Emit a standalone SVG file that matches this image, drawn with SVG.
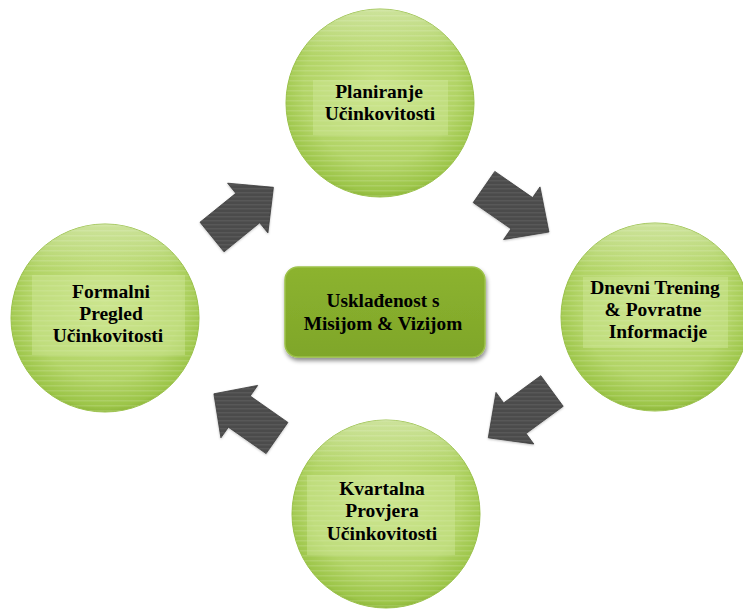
<svg xmlns="http://www.w3.org/2000/svg" width="743" height="610" viewBox="0 0 743 610">
  <defs>
    <radialGradient id="gCircle" cx="50%" cy="42%" r="58%">
      <stop offset="0" stop-color="#c6e182"/>
      <stop offset="0.7" stop-color="#b2d466"/>
      <stop offset="0.95" stop-color="#9cc548"/>
      <stop offset="1" stop-color="#8fb83c"/>
    </radialGradient>
    <linearGradient id="gHi" x1="0" y1="0" x2="0" y2="1">
      <stop offset="0" stop-color="#ffffff" stop-opacity="0.35"/>
      <stop offset="0.25" stop-color="#ffffff" stop-opacity="0"/>
      <stop offset="1" stop-color="#ffffff" stop-opacity="0"/>
    </linearGradient>
    <pattern id="stripes" width="8" height="5" patternUnits="userSpaceOnUse">
      <rect x="0" y="0" width="8" height="1.5" fill="#ffffff" fill-opacity="0.13"/>
    </pattern>
    <pattern id="darkStripes" width="8" height="4" patternUnits="userSpaceOnUse">
      <rect x="0" y="0" width="8" height="1.5" fill="#ffffff" fill-opacity="0.07"/>
    </pattern>
    <linearGradient id="gBox" x1="0" y1="0" x2="0" y2="1">
      <stop offset="0" stop-color="#8cb32f"/>
      <stop offset="1" stop-color="#7fa62a"/>
    </linearGradient>
    <filter id="shadow" x="-10%" y="-10%" width="125%" height="135%">
      <feDropShadow dx="1" dy="3" stdDeviation="2" flood-color="#000" flood-opacity="0.45"/>
    </filter>
    <filter id="soft" x="-10%" y="-10%" width="120%" height="120%">
      <feDropShadow dx="0" dy="1" stdDeviation="1" flood-color="#000" flood-opacity="0.25"/>
    </filter>
  </defs>
  <style>
    .circ { fill: url(#gCircle); stroke: #98c046; stroke-width: 1; }
    .circHi { fill: url(#gHi); }
    .circStr { fill: url(#stripes); }
    .tbox { fill: #d4eba0; fill-opacity: 0.4; }
    .lbl { font-family: "Liberation Serif", "Times New Roman", serif; font-weight: bold; font-size: 19.5px; fill: #000; text-anchor: middle; }
    .clbl { font-family: "Liberation Serif", "Times New Roman", serif; font-weight: bold; font-size: 19.3px; fill: #000; text-anchor: middle; }
    .arrow { fill: #4b4b4b; stroke: #3a3a3a; stroke-width: 0.8; }
    .arrowStr { fill: url(#darkStripes); }
  </style>
  <rect width="743" height="610" fill="#ffffff"/>

  <g id="connectors">
    <g id="arrow-top-left" filter="url(#soft)">
      <polygon class="arrow" points="200.0,222.2 235.8,193.3 227.6,183.2 273.4,187.3 267.9,232.9 259.7,222.8 224.0,251.8"/>
      <polygon class="arrowStr" points="200.0,222.2 235.8,193.3 227.6,183.2 273.4,187.3 267.9,232.9 259.7,222.8 224.0,251.8"/>
    </g>
    <g id="arrow-top-right" filter="url(#soft)">
      <polygon class="arrow" points="494.8,171.4 532.6,197.6 540.0,186.9 548.9,232.0 503.6,239.5 511.0,228.8 473.2,202.6"/>
      <polygon class="arrowStr" points="494.8,171.4 532.6,197.6 540.0,186.9 548.9,232.0 503.6,239.5 511.0,228.8 473.2,202.6"/>
    </g>
    <g id="arrow-bottom-right" filter="url(#soft)">
      <polygon class="arrow" points="563.2,406.3 526.1,433.5 533.8,444.0 488.3,437.8 496.0,392.4 503.7,402.9 540.8,375.7"/>
      <polygon class="arrowStr" points="563.2,406.3 526.1,433.5 533.8,444.0 488.3,437.8 496.0,392.4 503.7,402.9 540.8,375.7"/>
    </g>
    <g id="arrow-bottom-left" filter="url(#soft)">
      <polygon class="arrow" points="266.1,453.6 228.4,427.2 220.9,437.8 213.9,393.8 257.7,385.4 250.2,396.0 287.9,422.4"/>
      <polygon class="arrowStr" points="266.1,453.6 228.4,427.2 220.9,437.8 213.9,393.8 257.7,385.4 250.2,396.0 287.9,422.4"/>
    </g>
  </g>

  <g id="node-top">
    <circle class="circ" cx="380" cy="103" r="94"/>
    <circle class="circStr" cx="380" cy="103" r="94"/>
    <circle class="circHi" cx="380" cy="103" r="94"/>
    <rect class="tbox" x="313" y="80" width="135" height="55"/>
    <text class="lbl" x="379" y="98">Planiranje</text>
    <text class="lbl" x="380" y="120">Učinkovitosti</text>
  </g>

  <g id="node-right">
    <circle class="circ" cx="655" cy="317" r="94"/>
    <circle class="circStr" cx="655" cy="317" r="94"/>
    <circle class="circHi" cx="655" cy="317" r="94"/>
    <rect class="tbox" x="583" y="277" width="145" height="71"/>
    <text class="lbl" x="655" y="294">Dnevni Trening</text>
    <text class="lbl" x="653" y="316">&amp; Povratne</text>
    <text class="lbl" x="658" y="338">Informacije</text>
  </g>

  <g id="node-bottom">
    <circle class="circ" cx="386" cy="514" r="94"/>
    <circle class="circStr" cx="386" cy="514" r="94"/>
    <circle class="circHi" cx="386" cy="514" r="94"/>
    <rect class="tbox" x="307" y="475" width="148" height="80"/>
    <text class="lbl" x="382" y="495">Kvartalna</text>
    <text class="lbl" x="382" y="517">Provjera</text>
    <text class="lbl" x="382" y="540">Učinkovitosti</text>
  </g>

  <g id="node-left">
    <circle class="circ" cx="105" cy="318" r="94"/>
    <circle class="circStr" cx="105" cy="318" r="94"/>
    <circle class="circHi" cx="105" cy="318" r="94"/>
    <rect class="tbox" x="32" y="275" width="153" height="80"/>
    <text class="lbl" x="111" y="298">Formalni</text>
    <text class="lbl" x="111" y="320">Pregled</text>
    <text class="lbl" x="108" y="342">Učinkovitosti</text>
  </g>

  <g id="node-center">
    <rect x="285" y="267" width="200" height="90" rx="13" ry="13" fill="url(#gBox)" stroke="#9dc24a" stroke-width="1.5" filter="url(#shadow)"/>
    <text class="clbl" x="383" y="307">Usklađenost s</text>
    <text class="clbl" x="383" y="330">Misijom &amp; Vizijom</text>
  </g>
</svg>
